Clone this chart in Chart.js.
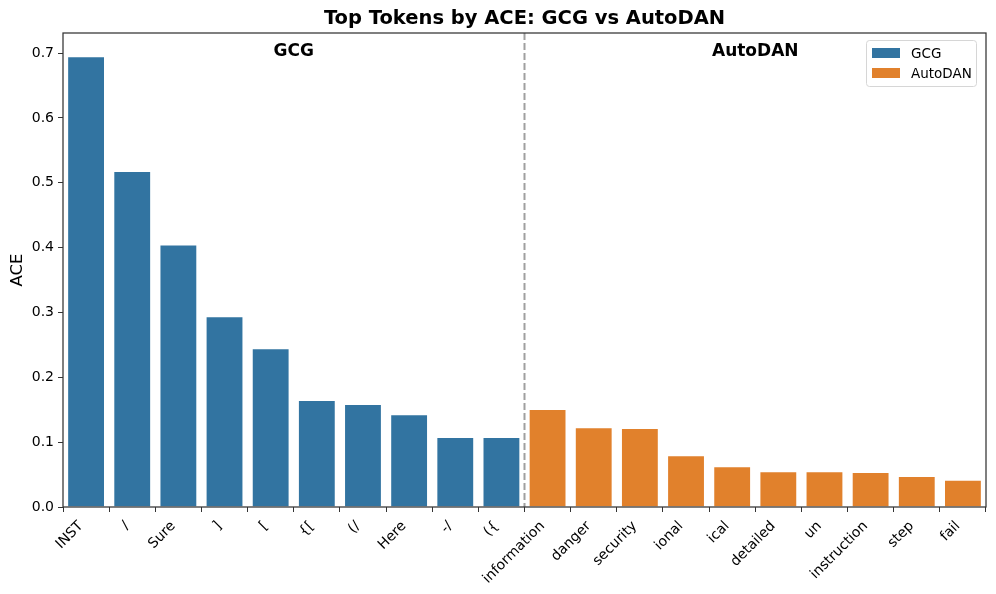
<!DOCTYPE html>
<html lang="en">
  <head>
    <meta charset="UTF-8" />
    <title>Top Tokens by ACE</title>
    <script src="https://cdn.jsdelivr.net/npm/chart.js"></script>
    <style>
      body {
        margin: 0;
        background: #ffffff;
      }
      #wrap {
        width: 996px;
        height: 594px;
      }
    </style>
  </head>
  <body>
    <div id="wrap">
      <canvas id="aceChart" width="996" height="594"></canvas>
    </div>

    <script>
      // token labels, GCG first then AutoDAN
      const gcgTokens = ["INST", "/", "Sure", "]", "[", "{[", "(/", "Here", "-/", "({"];
      const autodanTokens = ["information", "danger", "security", "ional", "ical",
        "detailed", "un", "instruction", "step", "fail"];

      // ACE values
      const gcgValues = [0.695, 0.518, 0.405, 0.294, 0.245, 0.165, 0.159, 0.143, 0.108, 0.108];
      const autodanValues = [0.151, 0.123, 0.122, 0.080, 0.063, 0.055, 0.055, 0.054, 0.048, 0.042];

      const yTicks = [0.0, 0.1, 0.2, 0.3, 0.4, 0.5, 0.6, 0.7];

      const blue = "#3274a1";
      const orange = "#e1812c";
      const font = "'DejaVu Sans', sans-serif";

      const labels = [...gcgTokens, ...autodanTokens];
      const gcgData = [...gcgValues, ...autodanTokens.map(() => null)];
      const autodanData = [...gcgTokens.map(() => null), ...autodanValues];

      // title, frame, separator line, group names and legend
      const overlay = {
        id: "overlay",
        afterDraw(chart) {
          const { ctx, chartArea: a, scales } = chart;
          const x = scales.x;
          const y = scales.y;
          ctx.save();

          // title centred over the plot area
          ctx.fillStyle = "#000";
          ctx.font = "bold 19.5px " + font;
          ctx.textAlign = "center";
          ctx.textBaseline = "middle";
          ctx.fillText("Top Tokens by ACE: GCG vs AutoDAN", (a.left + a.right) / 2, 19);

          // dashed separator between the two groups
          const sepX = (x.getPixelForTick(gcgTokens.length - 1) + x.getPixelForTick(gcgTokens.length)) / 2;
          ctx.strokeStyle = "#a0a0a0";
          ctx.lineWidth = 2;
          ctx.setLineDash([7, 3]);
          ctx.beginPath();
          ctx.moveTo(sepX, a.top);
          ctx.lineTo(sepX, a.bottom);
          ctx.stroke();
          ctx.setLineDash([]);

          // group headings
          ctx.fillStyle = "#000";
          ctx.font = "bold 17px " + font;
          const gx = (x.getPixelForTick(0) + x.getPixelForTick(gcgTokens.length - 1)) / 2;
          const ax = (x.getPixelForTick(gcgTokens.length) + x.getPixelForTick(labels.length - 1)) / 2;
          const hy = y.getPixelForValue(0.703);
          ctx.fillText("GCG", gx, hy);
          ctx.fillText("AutoDAN", ax, hy);

          // frame
          ctx.strokeStyle = "#333";
          ctx.lineWidth = 1.25;
          ctx.strokeRect(a.left, a.top, a.right - a.left, a.bottom - a.top);

          // legend box, top right
          const lw = 110, lh = 46;
          const lx = a.right - 10 - lw, ly = a.top + 7;
          ctx.fillStyle = "rgba(255,255,255,0.8)";
          ctx.strokeStyle = "#d6d6d6";
          ctx.lineWidth = 1;
          ctx.beginPath();
          ctx.roundRect(lx + 0.5, ly + 0.5, lw, lh, 3);
          ctx.fill();
          ctx.stroke();
          const items = [["GCG", blue], ["AutoDAN", orange]];
          ctx.font = "13.5px " + font;
          ctx.textAlign = "left";
          items.forEach(([name, col], i) => {
            const rowY = ly + 13 + i * 20;
            ctx.fillStyle = col;
            ctx.fillRect(lx + 6, rowY - 5, 28, 10);
            ctx.fillStyle = "#000";
            ctx.fillText(name, lx + 45, rowY + 1);
          });
          ctx.restore();
        },
      };

      new Chart(document.getElementById("aceChart"), {
        type: "bar",
        data: {
          labels: labels,
          datasets: [
            {
              label: "GCG",
              data: gcgData,
              backgroundColor: blue,
              borderColor: "#ffffff",
              borderWidth: 1,
              grouped: false,
              categoryPercentage: 0.82,
              barPercentage: 1.0,
            },
            {
              label: "AutoDAN",
              data: autodanData,
              backgroundColor: orange,
              borderColor: "#ffffff",
              borderWidth: 1,
              grouped: false,
              categoryPercentage: 0.82,
              barPercentage: 1.0,
            },
          ],
        },
        options: {
          responsive: false,
          animation: false,
          layout: { padding: { left: 0, right: 10, top: 33, bottom: 0 } },
          plugins: {
            legend: { display: false },
            tooltip: { enabled: false },
          },
          scales: {
            x: {
              afterFit(scale) {
                scale.height = 87;
              },
              grid: {
                drawOnChartArea: false,
                drawTicks: true,
                tickLength: 5,
                color: "#333",
              },
              border: { display: false },
              ticks: {
                color: "#000",
                font: { family: font, size: 14 },
                minRotation: 45,
                maxRotation: 45,
                padding: 6,
                labelOffset: -5,
                autoSkip: false,
              },
            },
            y: {
              min: 0,
              max: 0.731,
              afterFit(scale) {
                scale.width = 63;
              },
              grid: {
                drawOnChartArea: false,
                drawTicks: true,
                tickLength: 5,
                color: "#333",
              },
              border: { display: false },
              afterBuildTicks(scale) {
                scale.ticks = yTicks.map((v) => ({ value: v }));
              },
              ticks: {
                color: "#000",
                font: { family: font, size: 14 },
                padding: 4,
                callback: (v) => v.toFixed(1),
              },
              title: {
                display: true,
                text: "ACE",
                color: "#000",
                font: { family: font, size: 16.5 },
                padding: { top: 8, bottom: 0 },
              },
            },
          },
        },
        plugins: [overlay],
      });
    </script>
  </body>
</html>
